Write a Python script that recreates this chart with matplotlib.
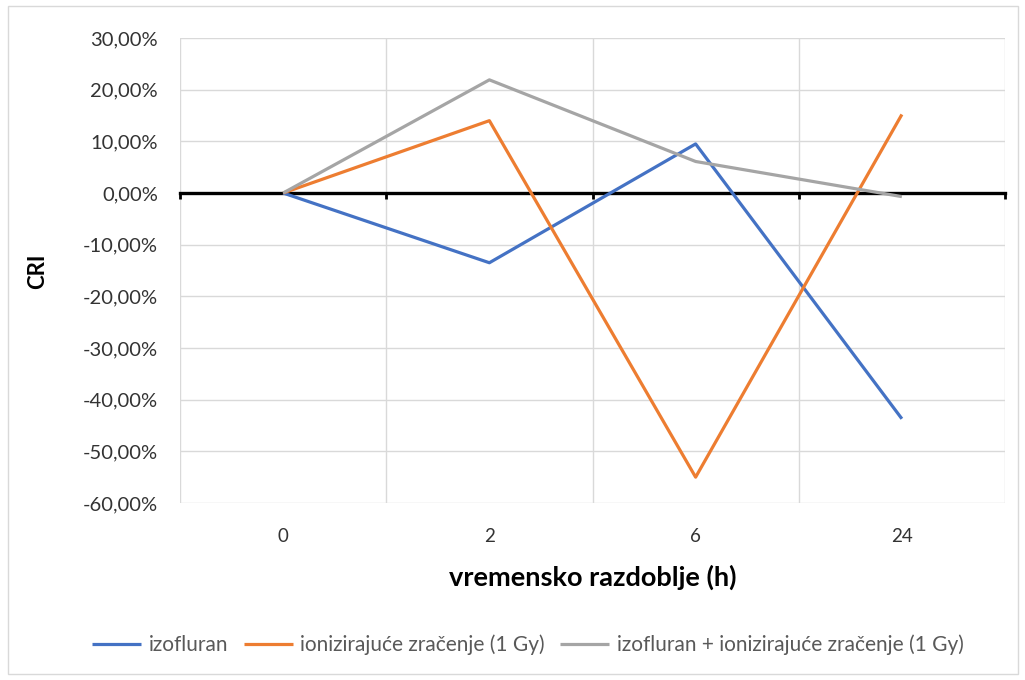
import matplotlib
matplotlib.use("Agg")
import matplotlib.pyplot as plt
from matplotlib.patches import Rectangle
from matplotlib.ticker import FuncFormatter, MultipleLocator
import matplotlib.transforms as mtransforms

categories = ["0", "2", "6", "24"]
izofluran = [0.0, -13.5, 9.5, -43.7]
zracenje = [0.0, 14.0, -55.0, 15.2]
kombinacija = [0.0, 21.9, 6.1, -0.7]
series_names = ["izofluran", "ionizirajuće zračenje (1 Gy)",
                "izofluran + ionizirajuće zračenje (1 Gy)"]
colors = ["#4472C4", "#ED7D31", "#A5A5A5"]

plt.rcParams['font.family'] = ['Lato', 'DejaVu Sans']

fig = plt.figure(figsize=(10.25, 6.8), dpi=100)
ax = fig.add_axes([180/1025, 1-503/680, (1005-180)/1025, (503-38)/680])

x = list(range(len(categories)))
for vals, name, c in zip([izofluran, zracenje, kombinacija], series_names, colors):
    ax.plot(x, vals, color=c, lw=2.3, label=name, solid_capstyle='butt', zorder=3)

ax.set_xlim(-0.5, len(categories) - 0.5)
ax.set_ylim(-60, 30)
ax.yaxis.set_major_locator(MultipleLocator(10))
ax.yaxis.set_major_formatter(FuncFormatter(lambda v, p: f"{v:.2f}%".replace('.', ',')))
ax.set_xticks([i - 0.5 for i in range(len(categories) + 1)])
ax.set_xticklabels([])
ax.grid(True, color="#d9d9d9", lw=1.0, zorder=0)
ax.set_axisbelow(True)

for s in ["left", "right", "top"]:
    ax.spines[s].set_visible(False)
ax.spines["bottom"].set_position(("data", 0))
ax.spines["bottom"].set_color("black")
ax.spines["bottom"].set_linewidth(2.4)
ax.spines["bottom"].set_zorder(2.5)
ax.tick_params(axis='x', direction='out', length=4, width=2.0, color='black')
ax.tick_params(axis='y', length=0, pad=16, labelsize=14.5, labelcolor="#333333")

trans = mtransforms.blended_transform_factory(ax.transData, ax.transAxes)
for i, lab in enumerate(categories):
    ax.text(i, -0.072, lab, transform=trans, ha='center', va='center',
            fontsize=13.5, color="#333333")

fig.text(593/1025, 1-577/680, "vremensko razdoblje (h)", ha='center', va='center',
         fontsize=19.5, fontweight='bold', color="black")
fig.text(38/1025, 1-271/680, "CRI", ha='center', va='center', rotation=90,
         fontsize=16, fontweight='bold', color="black")

leg = fig.legend(loc='center', bbox_to_anchor=(528/1025, 1-645/680), ncol=3,
                 frameon=False, fontsize=15, handlelength=2.35, columnspacing=0.75,
                 handletextpad=0.35, labelcolor="#595959")

fig.patches.append(Rectangle((8/1025, 6/680), 1010/1025, 668/680, transform=fig.transFigure,
                             fill=False, edgecolor="#d9d9d9", lw=1.0))

fig.savefig("out.png", dpi=100, facecolor="white")
